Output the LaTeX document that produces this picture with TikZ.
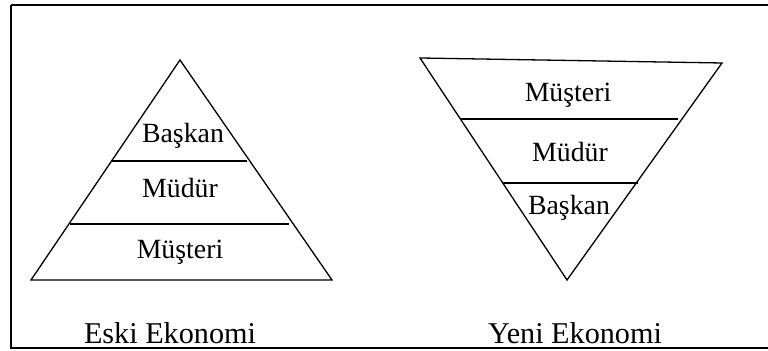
\documentclass[tikz,border=0pt]{standalone}
\usepackage{fontspec}
\setmainfont{Liberation Serif}
\begin{document}
\begin{tikzpicture}[x=0.5pt,y=-0.5pt,
  frameline/.style={line width=1pt},
  triline/.style={line width=0.65pt, line join=miter},
  layer/.style={anchor=base, inner sep=0pt, font=\fontsize{13.9}{16}\selectfont},
  caption/.style={anchor=base, inner sep=0pt, font=\fontsize{15.1}{18}\selectfont}]
\useasboundingbox (0,0) rectangle (768,351);
\draw[frameline] (11,5) -- (775,5) (11,5) -- (11,348) -- (775,348);
% left pyramid
\coordinate (LA) at (180,60);
\coordinate (LB) at (31,280);
\coordinate (LC) at (332,280);
\draw[triline] (LA) -- (LB) -- (LC) -- cycle;
\coordinate (L1a) at (111,161); \coordinate (L1b) at (247,161);
\coordinate (L2a) at (70,224);  \coordinate (L2b) at (289,224);
\draw[triline] (L1a) -- (L1b);
\draw[triline] (L2a) -- (L2b);
\node[layer] (lbaskan) at (183,143) {Başkan};
\node[layer] (lmudur) at (180,198) {Müdür};
\node[layer] (lmusteri) at (180,259) {Müşteri};
\node[caption] (eski) at (170,344) {Eski Ekonomi};
% right inverted pyramid
\coordinate (RA) at (420,58);
\coordinate (RB) at (722,63);
\coordinate (RC) at (567,280);
\draw[triline] (RA) -- (RB) -- (RC) -- cycle;
\coordinate (R1a) at (461,119); \coordinate (R1b) at (678,119);
\coordinate (R2a) at (503,183); \coordinate (R2b) at (638,183);
\draw[triline] (R1a) -- (R1b);
\draw[triline] (R2a) -- (R2b);
\node[layer] (rmusteri) at (568,102) {Müşteri};
\node[layer] (rmudur) at (570,162) {Müdür};
\node[layer] (rbaskan) at (569,215) {Başkan};
\node[caption] (yeni) at (575,344) {Yeni Ekonomi};
\end{tikzpicture}
\end{document}
